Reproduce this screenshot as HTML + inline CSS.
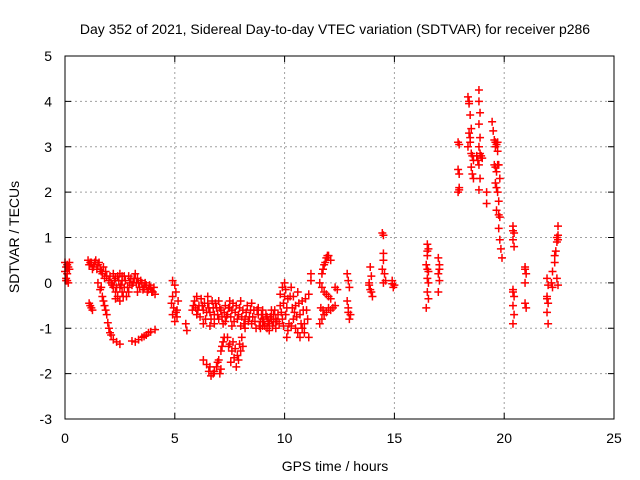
<!DOCTYPE html>
<html><head><meta charset="utf-8"><style>
body{margin:0;background:#fff}
svg{display:block;font-family:"Liberation Sans",sans-serif}
</style></head><body>
<svg id="chart" width="640" height="480" viewBox="0 0 640 480">
<rect width="640" height="480" fill="#fff"/>
<g id="grid"></g>
<g id="ticks"></g>
<g id="marks"></g>
<rect x="65" y="56" width="549" height="363" fill="none" stroke="#000" stroke-width="1"/>
<text x="335" y="34" text-anchor="middle" font-size="14">Day 352 of 2021, Sidereal Day-to-day VTEC variation (SDTVAR) for receiver p286</text>
<text x="335" y="471" text-anchor="middle" font-size="14">GPS time / hours</text>
<text transform="translate(19,237) rotate(-90)" text-anchor="middle" font-size="14">SDTVAR / TECUs</text>
</svg>
<script>
const xTicks=[0,5,10,15,20,25];
const yTicks=[-3,-2,-1,0,1,2,3,4,5];
const xTickLabels=["0","5","10","15","20","25"];
const yTickLabels=["-3","-2","-1","0","1","2","3","4","5"];
const obs=[
[0,0.45],[0.05,0.35],[0.1,0.4],[0,0.25],[0.05,0.1],[0.1,0.05],[0.15,0],[0.2,0.3],[0.2,0.45],[0.05,0.05],[0.1,0.2],[0.15,0.35],
[1.1,-0.45],[1.15,-0.5],[1.2,-0.55],[1.25,-0.6],
[1.05,0.5],[1.1,0.4],[1.2,0.45],[1.3,0.35],[1.4,0.5],[1.5,0.4],[1.6,0.3],[1.7,0.2],[1.8,0.1],[1.9,0.15],[2,0.05],[2.1,0],[2.2,-0.1],[2.3,-0.2],[2.4,-0.3],[2.3,0.1],[2.5,0.2],[2.6,0.05],[2.7,-0.1],[2.8,-0.3],[2.9,-0.2],[3,0.1],[3.1,0],[3.2,0.2],[3.3,0.1],[3.4,-0.1],[3.5,0],[3.6,-0.1],[3.7,-0.05],[3.8,-0.15],[3.9,-0.1],[4,-0.2],[4.1,-0.25],[2.6,-0.2],[2.5,-0.4],[2.7,0.15],[1.75,0.35],[2.2,0.2],[2.9,0.15],[3.3,-0.2],
[1.15,0.45],[1.25,0.3],[1.35,0.45],[1.45,0.3],[1.55,0.45],[1.65,0.25],[1.85,0.25],[2.05,0.15],[2.15,-0.05],[2.25,0.05],[2.35,-0.1],[2.45,0.05],[2.55,-0.05],[2.65,-0.3],[2.75,0.05],[2.85,-0.1],[2.95,0],[3.05,-0.05],[3.15,0.1],[3.25,0],[3.35,0],[3.45,0.05],[3.55,-0.15],[3.65,0],[3.75,-0.2],[3.85,-0.05],[3.95,-0.2],[4.05,-0.1],[2.4,0.15],[2.6,0.15],[2.5,-0.1],[2.3,-0.35],
[1.5,0],[1.6,-0.15],[1.7,-0.3],[1.8,-0.5],[1.9,-0.7],[1.95,-0.88],[2,-1],[2.1,-1.15],[2.2,-1.25],[2.35,-1.3],[2.5,-1.35],[1.65,-0.1],[1.75,-0.4],[1.85,-0.6],[2.05,-1.1],
[3.05,-1.28],[3.2,-1.3],[3.35,-1.25],[3.5,-1.2],[3.7,-1.15],[3.9,-1.08],[4.1,-1.03],[3.6,-1.18],[3.8,-1.1],
[4.9,0.05],[5,-0.05],[5.05,-0.2],[4.85,-0.45],[4.95,-0.55],[5.1,-0.6],[4.9,-0.7],[5,-0.85],[5.1,-0.75],[5.15,-0.4],[5.5,-0.9],[5.55,-1.05],[4.9,-0.3],[5.05,-0.65],
[5.8,-0.6],[5.9,-0.4],[6,-0.7],[6.1,-0.5],[6.2,-0.35],[6.3,-0.6],[6.4,-0.8],[6.5,-0.45],[6.6,-0.65],[6.7,-0.4],[6.8,-0.7],[6.9,-0.55],[7,-0.8],[7.1,-0.6],[7.2,-0.9],[7.3,-0.5],[7.4,-0.7],[7.5,-0.4],[7.6,-0.6],[7.7,-0.85],[7.8,-0.5],[7.9,-0.7],[8,-0.95],[8.1,-0.6],[8.2,-0.8],[8.3,-0.5],[8.4,-0.75],[8.5,-0.9],[8.6,-0.6],[8.7,-1],[8.8,-0.7],[8.9,-0.85],[9,-0.6],[9.1,-0.95],[9.2,-0.75],[9.3,-0.9],[9.4,-0.6],[9.5,-0.85],[9.6,-1],[9.7,-0.7],[9.8,-0.5],[9.9,-0.8],[10,-0.3],[10.1,-0.55],[10.2,-0.9],[9.9,-0.1],[10,0],[10.1,-1.2],
[6,-0.3],[6.5,-0.3],[7,-0.4],[7.5,-0.55],[8,-0.4],[8.5,-0.45],[9,-0.8],[9.5,-0.7],[8.2,-1],[7.6,-0.95],[6.8,-0.9],[6.3,-0.9],[6.6,-0.95],[9.3,-1.05],[8.8,-0.55],[7.3,-0.85],[9.8,-0.25],[10.15,-0.35],
[5.85,-0.5],[5.95,-0.55],[6.05,-0.6],[6.15,-0.75],[6.25,-0.5],[6.35,-0.45],[6.45,-0.65],[6.55,-0.55],[6.65,-0.8],[6.75,-0.55],[6.85,-0.45],[6.95,-0.7],[7.05,-0.55],[7.15,-0.75],[7.25,-0.65],[7.35,-0.75],[7.45,-0.55],[7.55,-0.75],[7.65,-0.45],[7.75,-0.65],[7.85,-0.8],[7.95,-0.55],[8.05,-0.75],[8.15,-0.9],[8.25,-0.65],[8.35,-0.85],[8.45,-0.6],[8.55,-0.75],[8.65,-0.85],[8.75,-0.6],[8.85,-0.95],[8.95,-0.7],[9.05,-0.85],[9.15,-0.7],[9.25,-0.85],[9.35,-0.75],[9.45,-0.95],[9.55,-0.6],[9.65,-0.85],[9.75,-0.9],[9.85,-0.65],[9.95,-0.95],[10.05,-0.7],[10.15,-1.05],[9.95,-0.45],[10.05,-0.15],[9.0,-0.95],[8.9,-1.0],[9.2,-1.0],[9.4,-0.8],[9.6,-0.8],
[6.3,-1.7],[6.45,-1.8],[6.55,-1.95],[6.65,-2.05],[6.8,-1.95],[6.9,-1.85],[7,-1.7],[7.1,-1.5],[7.2,-1.3],[7.05,-2],[7.1,-1.9],[6.6,-1.85],[6.75,-2.0],[6.95,-1.75],[7.15,-1.4],[7.25,-1.2],
[7.4,-1.2],[7.5,-1.35],[7.6,-1.5],[7.7,-1.65],[7.8,-1.85],[7.9,-1.7],[8,-1.5],[8.1,-1.4],[7.55,-1.75],[7.65,-1.3],[7.45,-1.4],[7.75,-1.45],[7.85,-1.6],[7.95,-1.35],[8.05,-1.2],
[10.3,-0.1],[10.4,-0.3],[10.5,-0.5],[10.6,-0.2],[10.7,-0.7],[10.8,-0.4],[10.9,-0.9],[11,-0.6],[11.1,-0.25],[10.5,-1],[10.7,-1.2],[10.9,-1.1],[10.4,-0.8],[11.2,0.2],[11.2,0.05],[11.1,-1.2],
[10.35,-0.55],[10.45,-0.65],[10.55,-0.75],[10.65,-0.45],[10.75,-0.9],[10.85,-0.6],[10.95,-0.35],[11.05,-0.8],[10.6,-1.1],[10.8,-1.0],[10.3,-0.95],[10.25,-0.3],
[11.6,0],[11.7,0.2],[11.8,0.4],[11.9,0.55],[12,0.6],[12.1,0.5],[11.7,-0.1],[11.9,-0.25],[12.1,-0.35],[11.65,-0.55],[11.8,-0.7],[11.9,-0.65],[12.1,-0.6],[12.3,-0.5],[11.6,-0.9],[11.7,-0.8],[12.3,-0.1],[12.4,-0.15],
[11.75,0.3],[11.85,0.45],[11.95,0.6],[11.8,-0.2],[12.0,-0.3],[11.75,-0.6],[12.0,-0.55],[12.2,-0.55],
[12.85,0.2],[12.9,0.05],[12.95,-0.1],[12.85,-0.4],[12.9,-0.55],[13,-0.7],[12.95,-0.8],[12.9,-0.65],
[13.9,0.35],[13.95,0.15],[13.85,0],[13.9,-0.15],[14,-0.3],[13.85,-0.05],[13.95,-0.2],
[14.45,1.1],[14.5,1.05],[14.5,0.65],[14.5,0.5],[14.45,0.3],[14.55,0.2],[14.5,0],[14.6,0.05],
[14.9,0.05],[15,-0.05],[14.95,-0.1],[14.9,-0.02],
[16.5,0.85],[16.55,0.75],[16.5,0.6],[16.45,0.4],[16.55,0.25],[16.5,0.1],[16.55,0],[16.5,-0.2],[16.55,-0.35],[16.45,-0.55],[16.5,0.7],[16.5,0.3],
[17,0.55],[17.05,0.4],[17,0.2],[17.05,0.05],[17,-0.2],[17.05,0.3],
[17.9,3.1],[17.95,3.05],[17.9,2.5],[17.95,2.4],[17.95,2.1],[17.9,2],[17.95,2.05],
[18.35,4.1],[18.4,3.95],[18.45,3.7],[18.5,3.4],[18.45,3.1],[18.35,3],[18.5,2.85],[18.6,2.7],[18.5,2.55],[18.55,2.4],[18.6,2.3],[18.4,3.3],[18.4,4.0],[18.45,3.2],[18.55,2.8],
[18.85,4.25],[18.85,4],[18.9,3.75],[18.85,3.5],[18.9,3.2],[18.85,3],[18.95,2.8],[18.85,2.6],[18.9,2.3],[18.85,2.05],[18.75,2.8],[19,2.75],[18.8,2.7],[18.9,2.85],
[19.2,2],[19.2,1.75],
[19.45,3.55],[19.5,3.35],[19.55,3.15],[19.6,3],[19.7,2.9],[19.55,2.6],[19.65,2.45],[19.75,2.6],[19.8,2.3],[19.6,2.2],[19.7,2],[19.75,1.8],[19.65,1.6],[19.8,1.45],[19.75,1.2],[19.8,0.95],[19.85,0.75],[19.9,0.55],
[19.6,3.1],[19.65,3.05],[19.7,3.1],[19.6,2.55],[19.7,2.6],[19.65,2.1],[19.75,1.5],
[20.4,1.25],[20.45,1.1],[20.4,0.95],[20.45,0.8],[20.4,1.15],
[20.4,-0.15],[20.45,-0.3],[20.4,-0.5],[20.45,-0.7],[20.4,-0.9],[20.4,-0.2],
[20.95,0.35],[21,0.2],[20.95,0],[20.95,-0.45],[21,-0.55],[20.95,0.3],
[21.95,0.1],[22,-0.05],[21.95,-0.3],[22,-0.45],[21.95,-0.65],[22,-0.9],[21.95,-0.35],
[22.15,0],[22.2,0.25],[22.3,0.45],[22.35,0.7],[22.4,0.9],[22.45,1.05],[22.45,1.25],[22.3,0.6],[22.4,0.1],[22.45,-0.05],[22.2,-0.1],[22.4,1.0],[22.45,0.95]
];
const NS="http://www.w3.org/2000/svg";
const X0=65,X1=614,Y0=419,Y1=56,xMin=0,xMax=25,yMin=-3,yMax=5;
function sx(v){return X0+(v-xMin)/(xMax-xMin)*(X1-X0);}
function sy(v){return Y0-(v-yMin)/(yMax-yMin)*(Y0-Y1);}
function mk(tag,attrs,parent){const e=document.createElementNS(NS,tag);for(const k in attrs)e.setAttribute(k,attrs[k]);parent.appendChild(e);return e;}
const grid=document.getElementById('grid'),ticks=document.getElementById('ticks'),marks=document.getElementById('marks');
xTicks.forEach((t,i)=>{
  const x=sx(t);
  if(t>xMin&&t<xMax){const g=mk('line',{x1:x,x2:x,y1:Y0,y2:Y1,stroke:'#a0a0a0','stroke-dasharray':'2,3'},grid);
  
  }
  const a=mk('line',{x1:x,x2:x,y1:Y0,y2:Y0-6,stroke:'#000'},ticks);
  
  
  const b=mk('line',{x1:x,x2:x,y1:Y1,y2:Y1+6,stroke:'#000'},ticks);
  
  
  const l=mk('text',{x:x,y:443,'text-anchor':'middle','font-size':14},ticks);
  l.textContent=xTickLabels[i];
  
  
});
yTicks.forEach((t,i)=>{
  const y=sy(t);
  if(t>yMin&&t<yMax){const g=mk('line',{x1:X0,x2:X1,y1:y,y2:y,stroke:'#a0a0a0','stroke-dasharray':'2,3'},grid);
  
  }
  const a=mk('line',{x1:X0,x2:X0+6,y1:y,y2:y,stroke:'#000'},ticks);
  
  
  const b=mk('line',{x1:X1,x2:X1-6,y1:y,y2:y,stroke:'#000'},ticks);
  
  
  const l=mk('text',{x:52,y:y+5,'text-anchor':'end','font-size':14},ticks);
  l.textContent=yTickLabels[i];
  
  
});
obs.forEach(p=>{
  const x=sx(p[0]),y=sy(p[1]);
  const m=mk('path',{d:`M${x-4},${y}H${x+4}M${x},${y-4}V${y+4}`,stroke:'#ff0000','stroke-width':1.5,fill:'none'},marks);
  
  
});
</script>
</body></html>
